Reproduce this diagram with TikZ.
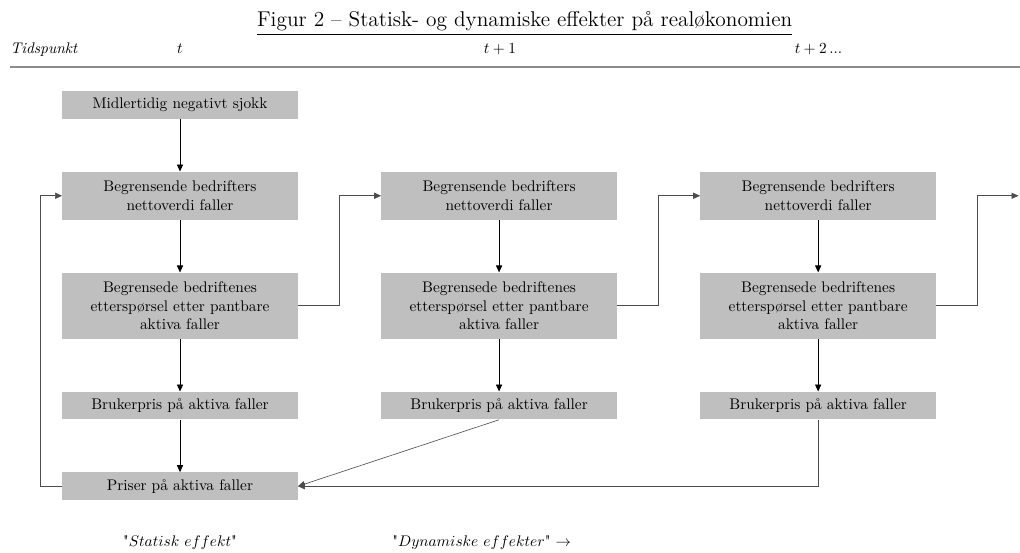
\documentclass[tikz,border=0pt]{standalone}
\usepackage{fontspec}
\usepackage{amsmath}
\usepackage{tikz}
\usetikzlibrary{positioning}
\usetikzlibrary{arrows.meta}
\definecolor{boxgray}{RGB}{191,191,191}
\tikzstyle{flow edge}=[-{Triangle[length=4.5pt,width=4pt]},thin]
\tikzstyle{elbow edge}=[flow edge,black!70]
\tikzstyle{effect box}=[fill=boxgray,minimum width=153pt,minimum height=18pt,inner ysep=3pt,align=center]
\tikzstyle{two lines}=[minimum height=31.2pt]
\tikzstyle{three lines}=[minimum height=43pt]
\newcommand{\flownode}[3][]{
  \node [effect box, #1] (#2) {#3}
}

\begin{document}
\begin{tikzpicture}[node distance=34pt and 54pt]
    \useasboundingbox (0,0) rectangle (663pt,-358.8pt);
    \node [anchor=base] (title) at (341pt,-17.5pt) {\fontsize{13.9pt}{16pt}\selectfont\underline{Figur 2 -- Statisk- og dynamiske effekter på realøkonomien}};
    \node [anchor=base west,inner sep=0pt] (tid) at (6.5pt,-35pt) {\textit{Tidspunkt}};
    \node [anchor=base,inner sep=0pt] (t0) at (117pt,-35pt) {$t$};
    \node [anchor=base,inner sep=0pt] (t1) at (325pt,-35pt) {$t+1$};
    \node [anchor=base,inner sep=0pt] (t2) at (532pt,-35pt) {$t+2\,...$};
    \draw [black!45,line width=1.2pt] (6.5pt,-43.8pt) -- (663pt,-43.8pt);

        \flownode[at={(117pt,-68.25pt)}]{sjokk}{Midlertidig negativt sjokk};
        \flownode[two lines,below=of sjokk]{netto1}{Begrensende bedrifters\\nettoverdi faller};
        \flownode[three lines,below=of netto1]{ettersp1}{Begrensede bedriftenes\\etterspørsel etter pantbare\\aktiva faller};
        \flownode[below=of ettersp1]{bruker1}{Brukerpris på aktiva faller};
        \flownode[below=of bruker1]{priser}{Priser på aktiva faller};
          \flownode[two lines,right=of netto1]{netto2}{Begrensende bedrifters\\nettoverdi faller};
          \flownode[three lines,below=of netto2]{ettersp2}{Begrensede bedriftenes\\etterspørsel etter pantbare\\aktiva faller};
          \flownode[below=of ettersp2]{bruker2}{Brukerpris på aktiva faller};
            \flownode[two lines,right=of netto2]{netto3}{Begrensende bedrifters\\nettoverdi faller};
            \flownode[three lines,below=of netto3]{ettersp3}{Begrensede bedriftenes\\etterspørsel etter pantbare\\aktiva faller};
            \flownode[below=of ettersp3]{bruker3}{Brukerpris på aktiva faller};
    \coordinate (videre) at (662pt,0 |- netto3);

      \draw[flow edge] (sjokk) -- (netto1);
      \draw[flow edge] (netto1) -- (ettersp1);
      \draw[flow edge] (ettersp1) -- (bruker1);
      \draw[flow edge] (bruker1) -- (priser);
      \draw[flow edge] (netto2) -- (ettersp2);
      \draw[flow edge] (ettersp2) -- (bruker2);
      \draw[flow edge] (netto3) -- (ettersp3);
      \draw[flow edge] (ettersp3) -- (bruker3);
            \draw[elbow edge] (priser.west) -- ++(-14pt,0) |- (netto1.west);
            \draw[elbow edge] (ettersp1.east) -- ++(27pt,0) |- (netto2.west);
            \draw[elbow edge] (ettersp2.east) -- ++(27pt,0) |- (netto3.west);
            \draw[elbow edge] (ettersp3.east) -- ++(27pt,0) |- (videre);
            \draw[elbow edge] (bruker2.south) -- (priser.east);
            \draw[elbow edge] (bruker3.south) |- (priser.east);

    \node (statisk) at (117pt,-352.5pt) {\textquotedbl$Statisk\ effekt$\textquotedbl};
    \node [anchor=west] (dynamisk) at (251.5pt,-352.5pt) {\textquotedbl$Dynamiske\ effekter$\textquotedbl\ $\rightarrow$};
\end{tikzpicture}
\end{document}
